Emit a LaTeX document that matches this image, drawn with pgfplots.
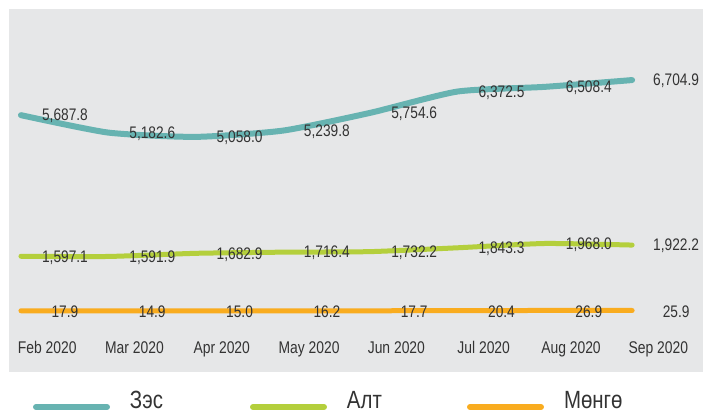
\documentclass[border=0pt]{standalone}
\usepackage{fontspec}
\setmainfont{Liberation Sans}[FakeStretch=0.82]
\usepackage{pgfplots}
\pgfplotsset{compat=1.18}
\definecolor{bg}{HTML}{E6E7E8}
\definecolor{cu}{HTML}{67B3B1}
\definecolor{au}{HTML}{B4CF3C}
\definecolor{ag}{HTML}{F9AC1F}
\definecolor{txt}{HTML}{333333}
\begin{document}
\begin{tikzpicture}
\useasboundingbox (0,0) rectangle (703bp,416bp);
\begin{axis}[
  at={(9bp,44bp)}, anchor=south west,
  scale only axis, width=694bp, height=363bp,
  xmin=-0.137, xmax=7.812, ymin=-1757, ymax=8765,
  axis background/.style={fill=bg},
  axis line style={draw=none},
  major tick length=0pt,
  ytick=\empty,
  xtick={0.3,1.3,2.3,3.3,4.3,5.3,6.3,7.3},
  xticklabels={Feb 2020,Mar 2020,Apr 2020,May 2020,Jun 2020,Jul 2020,Aug 2020,Sep 2020},
  xticklabel style={anchor=base, yshift=18bp, font=\fontsize{17}{20}\selectfont, text=txt},
  clip=false,
  point meta=explicit symbolic,
  nodes near coords,
  every node near coord/.append style={anchor=center, xshift=44bp, yshift=-1bp, font=\fontsize{16.8}{19}\selectfont, text=txt},
  legend columns=3,
  legend style={at={(axis description cs:0,0)}, anchor=west, xshift=24bp, yshift=-29bp,
    draw=none, fill=none, inner sep=0pt, outer sep=0pt, nodes={inner sep=0pt},
    font=\fontsize{25}{28}\selectfont, text=txt,
    /tikz/every odd column/.style={column sep=20bp},
    /tikz/every even column/.style={column sep=25bp}},
  legend image code/.code={\draw[#1, line width=6bp, line cap=round] (3bp,-6bp) -- (74bp,-6bp);},
]
\addplot[cu, line width=6bp, line cap=round, line join=round, smooth, tension=0.35] coordinates {
 (0,5687.8) [5,687.8]
 (1,5182.6) [5,182.6]
 (2,5058.0) [5,058.0]
 (3,5239.8) [5,239.8]
 (4,5754.6) [5,754.6]
 (5,6372.5) [6,372.5]
 (6,6508.4) [6,508.4]
 (7,6704.9) [6,704.9]
};
\addlegendentry{\makebox[95bp][l]{Зэс}}
\addplot[au, line width=5bp, line cap=round, line join=round, smooth, tension=0.35] coordinates {
 (0,1597.1) [1,597.1]
 (1,1591.9) [1,591.9]
 (2,1682.9) [1,682.9]
 (3,1716.4) [1,716.4]
 (4,1732.2) [1,732.2]
 (5,1843.3) [1,843.3]
 (6,1968.0) [1,968.0]
 (7,1922.2) [1,922.2]
};
\addlegendentry{\makebox[95bp][l]{Алт}}
\addplot[ag, line width=5bp, line cap=round, line join=round] coordinates {
 (0,17.9) [17.9]
 (1,14.9) [14.9]
 (2,15.0) [15.0]
 (3,16.2) [16.2]
 (4,17.7) [17.7]
 (5,20.4) [20.4]
 (6,26.9) [26.9]
 (7,25.9) [25.9]
};
\addlegendentry{Мөнгө}
\end{axis}
\end{tikzpicture}
\end{document}
